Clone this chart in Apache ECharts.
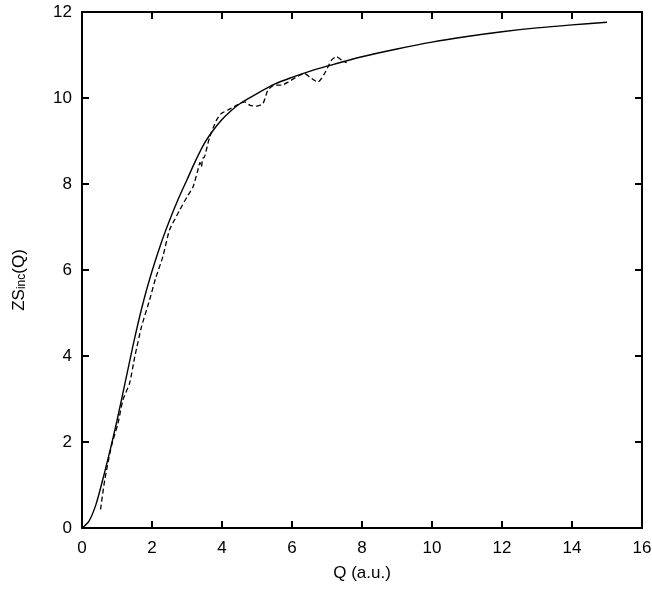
<!DOCTYPE html>
<html>
<head>
<meta charset="utf-8">
<script src="https://cdn.jsdelivr.net/npm/echarts@6/dist/echarts.min.js"></script>
<style>
  html, body { margin: 0; padding: 0; background: #fff; }
  #chart { width: 652px; height: 589px; }
</style>
</head>
<body>
<div id="chart"></div>
<script>
// solid curve (model)
const qSolid = [0, 0.2, 0.4, 0.6, 0.8, 1.0, 1.25, 1.5, 1.75, 2.0, 2.25, 2.5, 2.75, 3.0, 3.25, 3.5, 3.75, 4.0, 4.25, 4.5, 5.0, 5.5, 6.0, 6.5, 7.0, 8, 9, 10, 11, 12, 13, 14, 15]
const zsSolid = [0, 0.16, 0.55, 1.15, 1.8, 2.5, 3.45, 4.4, 5.25, 5.97, 6.6, 7.15, 7.65, 8.1, 8.55, 8.95, 9.25, 9.5, 9.7, 9.86, 10.1, 10.32, 10.48, 10.62, 10.74, 10.96, 11.14, 11.3, 11.43, 11.54, 11.63, 11.7, 11.76]

// dashed curve (data)
const qDashed = [0.53, 0.65, 0.84, 1.03, 1.17, 1.36, 1.51, 1.7, 1.93, 2.1, 2.31, 2.5, 2.79, 3.0, 3.17, 3.31, 3.37, 3.41, 3.45, 3.5, 3.65, 3.84, 3.98, 4.17, 4.41, 4.65, 4.8, 4.98, 5.17, 5.31, 5.5, 5.7, 5.89, 6.13, 6.36, 6.5, 6.74, 6.93, 7.13, 7.27, 7.45, 7.56]
const zsDashed = [0.43, 1.12, 1.9, 2.44, 2.98, 3.37, 3.99, 4.68, 5.3, 5.8, 6.31, 6.93, 7.39, 7.7, 7.93, 8.32, 8.5, 8.4, 8.6, 8.63, 9.1, 9.48, 9.64, 9.72, 9.83, 9.91, 9.83, 9.81, 9.87, 10.18, 10.3, 10.3, 10.37, 10.49, 10.57, 10.49, 10.37, 10.57, 10.88, 10.96, 10.86, 10.82]

const font = 'Liberation Sans, Arial, Helvetica, sans-serif'

const axisCommon = {
    type: 'value',
    axisLine: { show: true, onZero: false, lineStyle: { color: '#000', width: 2 } },
    axisTick: { show: true, inside: true, length: 7, lineStyle: { color: '#000', width: 2 } },
    splitLine: { show: false }
}

const chart = echarts.init(document.getElementById('chart'))

chart.setOption({
    animation: false,
    backgroundColor: '#fff',
    grid: { left: 82, right: 10, top: 12, bottom: 61, containLabel: false, outerBoundsMode: 'none' },
    xAxis: [
        {
            ...axisCommon,
            position: 'bottom',
            min: 0, max: 16, interval: 2,
            name: 'Q (a.u.)',
            nameLocation: 'middle',
            nameGap: 37,
            nameTextStyle: { color: '#000', fontSize: 17, fontFamily: font },
            axisLabel: { color: '#000', fontSize: 17, fontFamily: font, margin: 12 }
        },
        {
            ...axisCommon,
            position: 'top',
            min: 0, max: 16, interval: 2,
            axisLabel: { show: false }
        }
    ],
    yAxis: [
        {
            ...axisCommon,
            position: 'left',
            min: 0, max: 12, interval: 2,
            name: '{a|ZS}{b|inc}{a|(Q)}',
            nameLocation: 'middle',
            nameGap: 54,
            nameTextStyle: {
                color: '#000', fontFamily: font, padding: [0, 20, 0, 0],
                rich: {
                    a: { fontSize: 17, fontFamily: font, color: '#000', lineHeight: 18, verticalAlign: 'bottom' },
                    b: { fontSize: 12, fontFamily: font, color: '#000', lineHeight: 30, verticalAlign: 'bottom' }
                }
            },
            axisLabel: { color: '#000', fontSize: 17, fontFamily: font, margin: 10 }
        },
        {
            ...axisCommon,
            position: 'right',
            min: 0, max: 12, interval: 2,
            axisLabel: { show: false }
        }
    ],
    series: [
        {
            name: 'model',
            type: 'line',
            data: qSolid.map((q, i) => [q, zsSolid[i]]),
            smooth: 0.3,
            showSymbol: false,
            lineStyle: { color: '#000', width: 1.4, type: 'solid' }
        },
        {
            name: 'data',
            type: 'line',
            data: qDashed.map((q, i) => [q, zsDashed[i]]),
            smooth: 0.2,
            showSymbol: false,
            lineStyle: { color: '#000', width: 1.3, type: [5, 3] }
        }
    ]
})
</script>
</body>
</html>
